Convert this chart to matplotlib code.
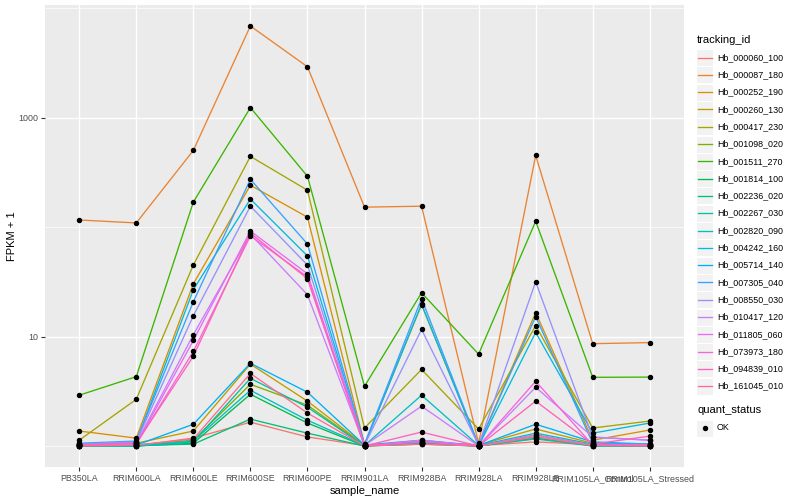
import numpy as np
import matplotlib
matplotlib.use("Agg")
import matplotlib.pyplot as plt
from matplotlib.patches import Rectangle

plt.rcParams['font.family'] = ['Liberation Sans', 'DejaVu Sans']

samples = ["PB350LA", "RRIM600LA", "RRIM600LE", "RRIM600SE", "RRIM600PE",
           "RRIM901LA", "RRIM928BA", "RRIM928LA", "RRIM928LB",
           "RRIM105LA_Control", "RRIM105LA_Stressed"]

tracking_ids = ["Hb_000060_100", "Hb_000087_180", "Hb_000252_190", "Hb_000260_130",
                "Hb_000417_230", "Hb_001098_020", "Hb_001511_270", "Hb_001814_100",
                "Hb_002236_020", "Hb_002267_030", "Hb_002820_090", "Hb_004242_160",
                "Hb_005714_140", "Hb_007305_040", "Hb_008550_030", "Hb_010417_120",
                "Hb_011805_060", "Hb_073973_180", "Hb_094839_010", "Hb_161045_010"]

colors = ["#F8766D", "#EA8331", "#D89000", "#C09B00", "#A3A500", "#7CAE00",
          "#39B600", "#00BB4E", "#00BF7D", "#00C1A3", "#00BFC4", "#00BAE0",
          "#00B0F6", "#35A2FF", "#9590FF", "#C77CFF", "#E76BF3", "#FA62DB",
          "#FF62BC", "#FF6C91"]

# FPKM + 1 values, one list per tracking_id (order of samples)
Hb_000060_100 = [1.02, 1.01, 1.18, 1.65, 1.21, 1.01, 1.04, 1.01, 1.09, 1.03, 1.01]
Hb_000087_180 = [116, 109, 501, 6860, 2910, 152, 155, 1.06, 451, 8.6, 8.8]
Hb_000252_190 = [1.37, 1.18, 30.3, 241, 123, 1.04, 19.5, 1.02, 16.5, 1.13, 1.40]
Hb_000260_130 = [1.04, 1.06, 1.37, 5.6, 2.57, 1.02, 1.09, 1.02, 1.43, 1.06, 1.04]
Hb_000417_230 = [1.13, 2.67, 45, 442, 217, 1.46, 5.0, 1.43, 12.6, 1.46, 1.69]
Hb_001098_020 = [1.01, 1.02, 1.13, 3.66, 2.36, 1.01, 1.06, 1.0, 1.26, 1.02, 1.01]
Hb_001511_270 = [2.91, 4.3, 169, 1233, 291, 3.51, 25.1, 6.9, 113, 4.24, 4.26]
Hb_001814_100 = [1.0, 1.0, 1.06, 2.97, 1.62, 1.0, 1.04, 1.0, 1.18, 1.01, 1.0]
Hb_002236_020 = [1.0, 1.01, 1.04, 1.76, 1.31, 1.0, 1.06, 1.0, 1.21, 1.0, 1.0]
Hb_002267_030 = [1.0, 1.0, 1.09, 4.15, 2.26, 1.0, 1.09, 1.0, 1.16, 1.0, 1.0]
Hb_002820_090 = [1.02, 1.0, 1.11, 3.23, 1.72, 1.01, 2.91, 1.01, 1.31, 1.04, 1.02]
Hb_004242_160 = [1.04, 1.09, 26.8, 180, 54.5, 1.02, 19.8, 1.0, 10.9, 1.31, 1.62]
Hb_005714_140 = [1.04, 1.02, 1.58, 5.7, 3.1, 1.02, 1.13, 1.01, 1.58, 1.09, 1.04]
Hb_007305_040 = [1.06, 1.11, 20.8, 273, 70, 1.04, 22.2, 1.02, 15.2, 1.06, 1.04]
Hb_008550_030 = [1.04, 1.09, 15.5, 155, 45, 1.02, 11.6, 1.02, 31.6, 1.2, 1.13]
Hb_010417_120 = [1.02, 1.06, 10.4, 86, 24.1, 1.01, 2.31, 1.0, 3.44, 1.21, 1.13]
Hb_011805_060 = [1.02, 1.04, 9.2, 92, 37.4, 1.0, 1.13, 1.0, 1.26, 1.02, 1.03]
Hb_073973_180 = [1.01, 1.04, 7.3, 83, 35.1, 1.0, 1.09, 1.0, 3.9, 1.02, 1.02]
Hb_094839_010 = [1.02, 1.06, 6.6, 88, 33.7, 1.0, 1.34, 1.0, 2.57, 1.04, 1.23]
Hb_161045_010 = [1.0, 1.02, 1.16, 4.6, 2.0, 1.0, 1.04, 1.0, 1.21, 1.01, 1.0]

series = [Hb_000060_100, Hb_000087_180, Hb_000252_190, Hb_000260_130, Hb_000417_230,
          Hb_001098_020, Hb_001511_270, Hb_001814_100, Hb_002236_020, Hb_002267_030,
          Hb_002820_090, Hb_004242_160, Hb_005714_140, Hb_007305_040, Hb_008550_030,
          Hb_010417_120, Hb_011805_060, Hb_073973_180, Hb_094839_010, Hb_161045_010]

W, H = 800, 500
fig = plt.figure(figsize=(8, 5), dpi=100)
L, R, T, B = 45, 684, 5, 467
ax = fig.add_axes([L / W, 1 - B / H, (R - L) / W, (B - T) / H])
ax.set_facecolor("#EBEBEB")
for s in ax.spines.values():
    s.set_visible(False)

x = np.arange(len(samples))
for vals, c in zip(series, colors):
    ax.plot(x, vals, color=c, lw=0.95, zorder=3, solid_capstyle='butt')
for vals in series:
    ax.plot(x, vals, ls='none', marker='o', ms=2.9, color='black', zorder=4)

ax.set_yscale('log')
allv = np.log10(np.concatenate([np.array(v, float) for v in series]))
lo, hi = allv.min(), allv.max()
pad = (hi - lo) * 0.05
ax.set_ylim(10 ** (lo - pad), 10 ** (hi + pad))
ax.set_xlim(-0.6, len(samples) - 0.4)

ax.set_yticks([10, 1000])
ax.set_yticklabels(["10", "1000"])
ax.set_yticks([1, 100, 10000], minor=True)
ax.yaxis.set_minor_formatter(matplotlib.ticker.NullFormatter())
ax.set_xticks(x)
ax.set_xticklabels(samples)

ax.grid(True, which='major', axis='both', color='white', lw=1.0, zorder=0)
ax.grid(True, which='minor', axis='y', color='white', lw=0.5, zorder=0)
ax.set_axisbelow(True)
ax.tick_params(axis='both', which='major', length=3, width=0.8, color='#333333',
               labelsize=6.4, labelcolor='#4D4D4D', pad=2)
ax.tick_params(axis='y', which='minor', length=0)
ax.set_xlabel("sample_name", fontsize=8, labelpad=2)
ax.set_ylabel("FPKM + 1", fontsize=8, labelpad=1)

# legends (drawn in pixel coordinates)
lg = fig.add_axes([0, 0, 1, 1], facecolor='none')
lg.set_xlim(0, W)
lg.set_ylim(H, 0)
lg.axis('off')
lg.text(697, 40, "tracking_id", fontsize=8, va='center', ha='left')
y0, dy, ks = 57.5, 17.3, 17
for i, (tid, c) in enumerate(zip(tracking_ids, colors)):
    yc = y0 + i * dy
    lg.add_patch(Rectangle((696, yc - ks / 2), ks, ks, facecolor='#F2F2F2',
                           edgecolor='white', lw=0.8))
    lg.plot([698, 712], [yc, yc], color=c, lw=0.95)
    lg.text(717, yc, tid, fontsize=6.4, va='center', ha='left')

lg.text(697, 410, "quant_status", fontsize=8, va='center', ha='left')
yc = 428
lg.add_patch(Rectangle((696, yc - ks / 2), ks, ks, facecolor='#F2F2F2',
                       edgecolor='white', lw=0.8))
lg.plot([704.5], [yc], marker='o', ms=2.9, color='black')
lg.text(717, yc, "OK", fontsize=6.4, va='center', ha='left')

fig.savefig("out.png", dpi=100)
